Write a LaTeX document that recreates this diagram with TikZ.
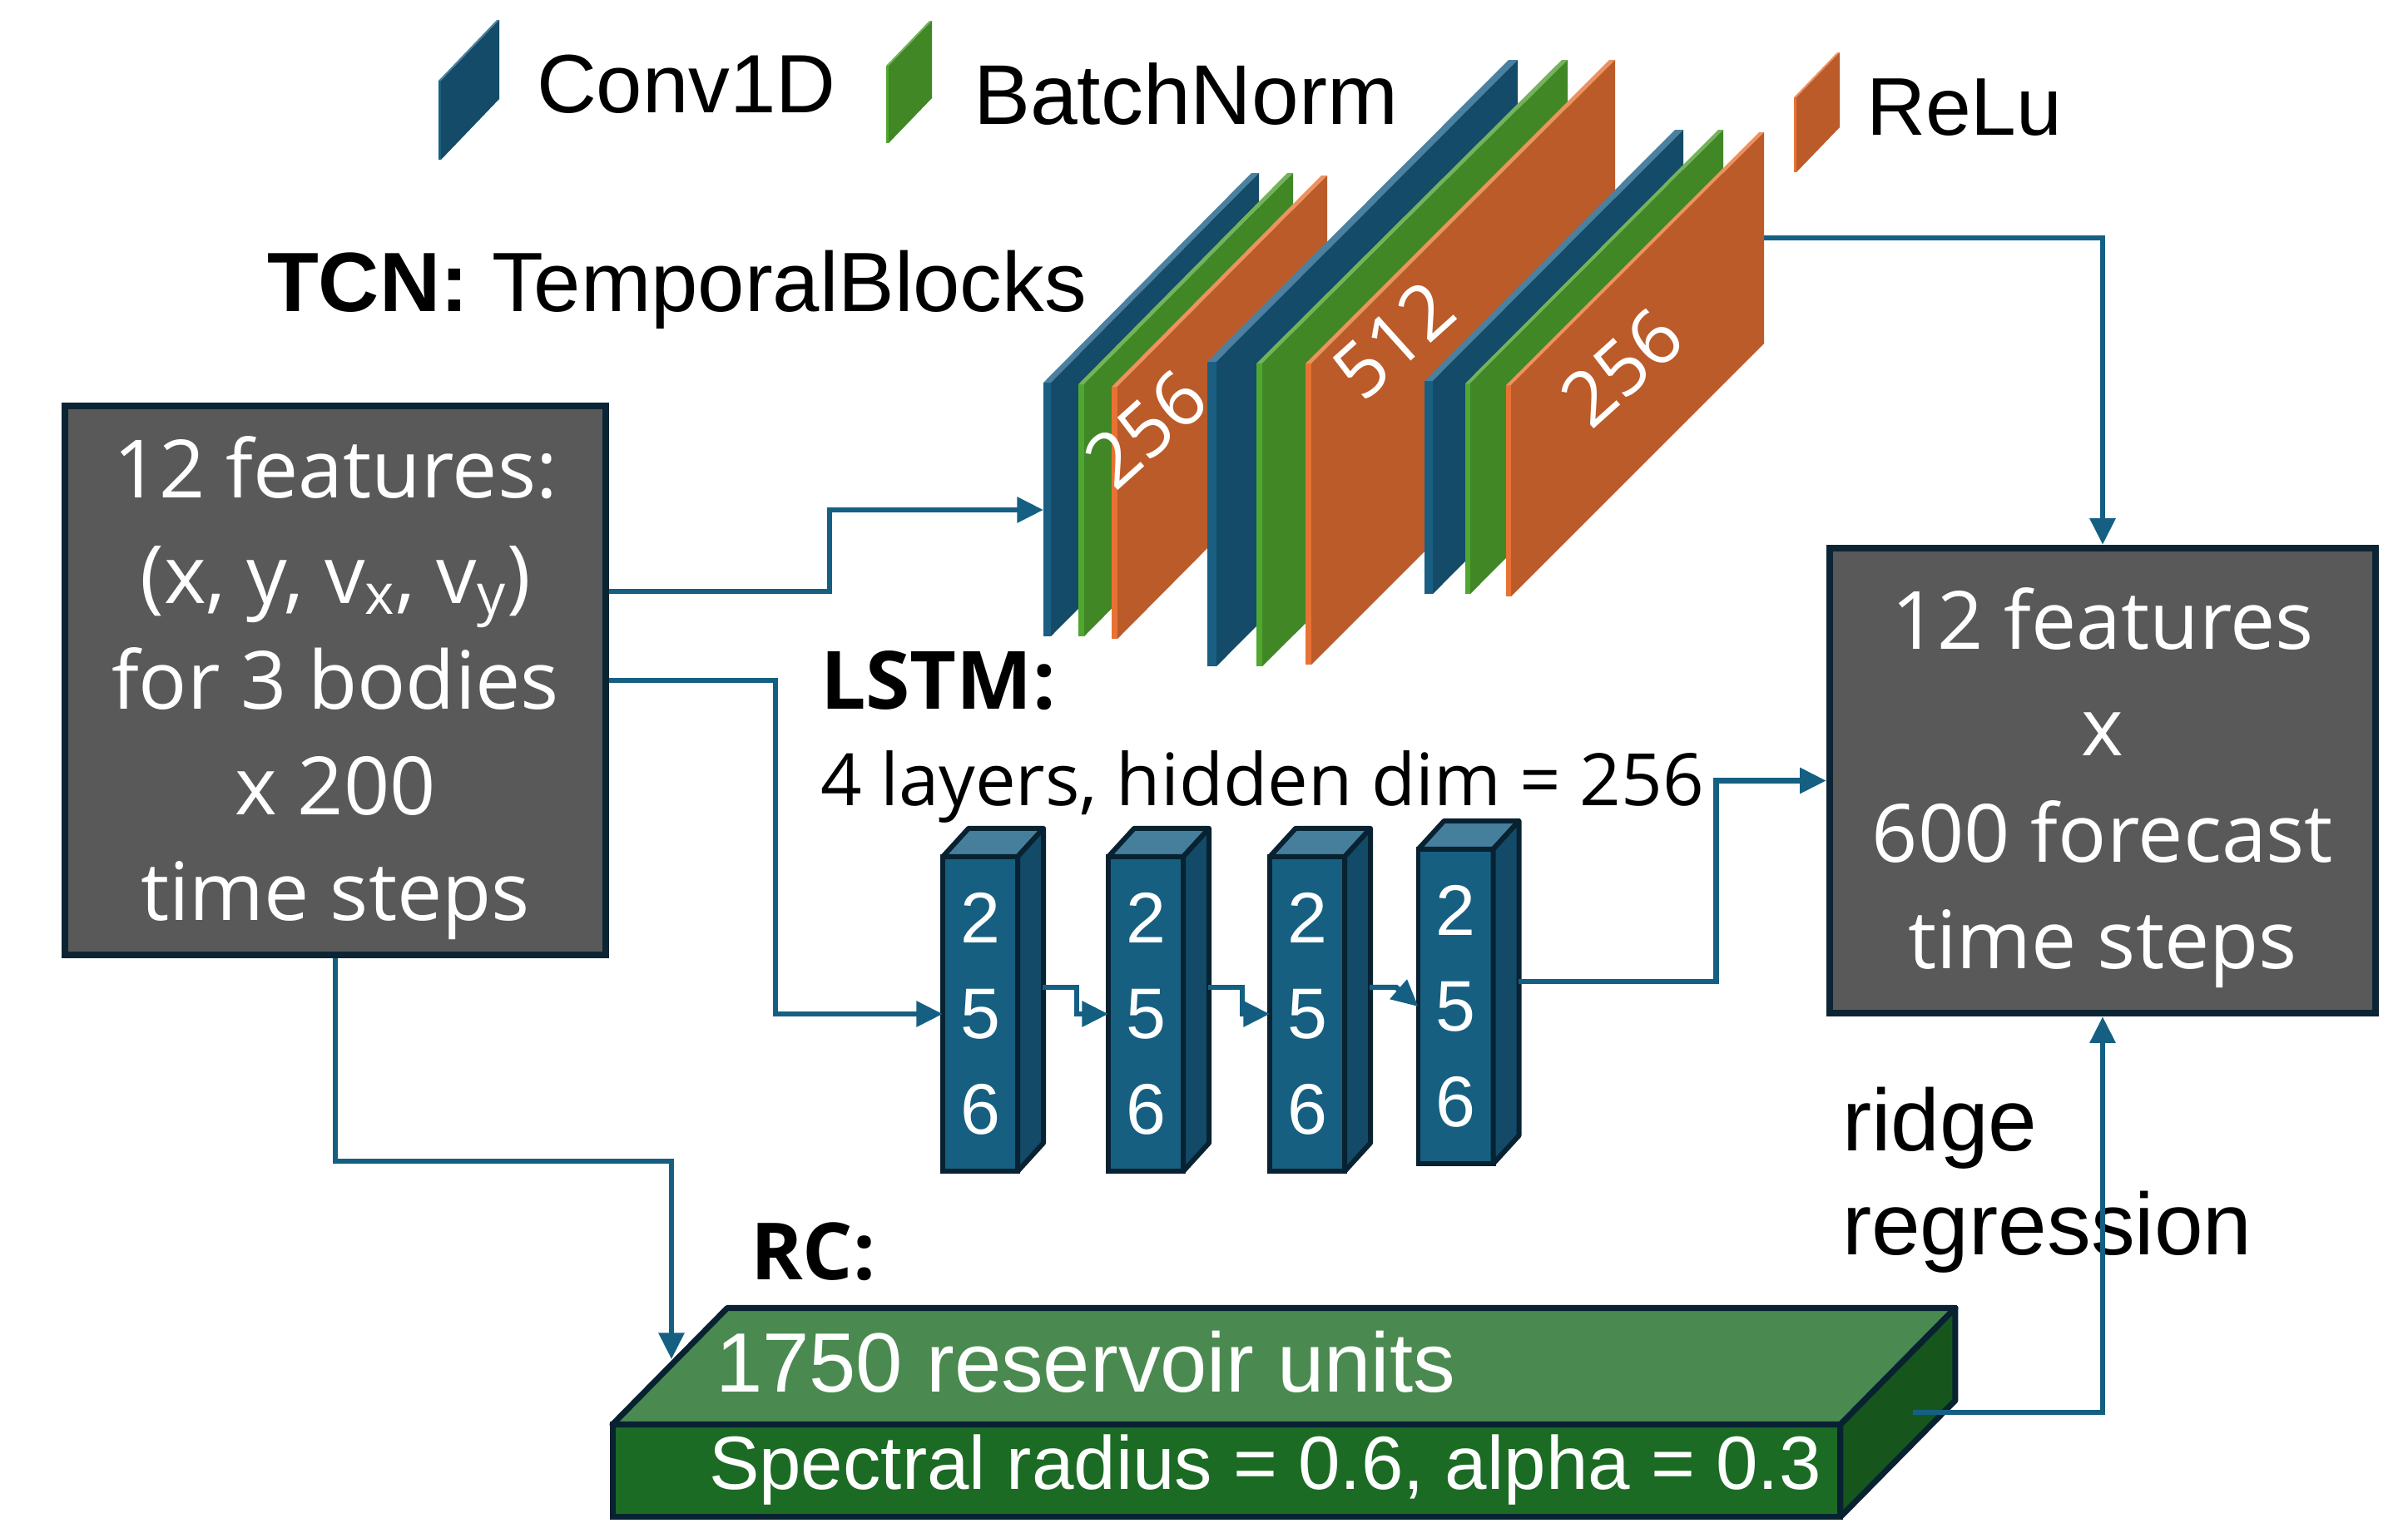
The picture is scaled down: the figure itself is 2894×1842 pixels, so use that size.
\documentclass[tikz,border=0pt]{standalone}
\usepackage{fontspec}
\setmainfont{Liberation Sans}
\newfontfamily\ap{Open Sans}
\usetikzlibrary{arrows.meta,calc}
\definecolor{cblue}{HTML}{156082}
\definecolor{bxgray}{HTML}{595959}
\definecolor{bxborder}{HTML}{0C2535}
\definecolor{lborder}{HTML}{082231}
\definecolor{lfront}{HTML}{175F80}
\definecolor{lside}{HTML}{124A68}
\definecolor{ltop}{HTML}{467F9C}
\definecolor{rcfrontc}{HTML}{1C6B24}
\definecolor{rctopc}{HTML}{4A8A50}
\definecolor{rcsidec}{HTML}{16561D}
\definecolor{bmain}{HTML}{134B69}
\definecolor{bleft}{HTML}{1A5F82}
\definecolor{btop}{HTML}{4A80A0}
\definecolor{gmain}{HTML}{418726}
\definecolor{gleft}{HTML}{4FA72F}
\definecolor{gtop}{HTML}{74B35A}
\definecolor{omain}{HTML}{BB5B29}
\definecolor{oleft}{HTML}{E87234}
\definecolor{otop}{HTML}{EE915F}
\newcommand\fsz[2]{\fontsize{#1}{#2}\selectfont}
\newcommand\tstrut{\rule{0pt}{26.4pt}}
\newcommand\bstrut{\rule[-6.8pt]{0pt}{6.8pt}}
% x0, ytl, dx, dy, h, w, main, left, top
\newcommand\tlayer[9]{%
  \fill[#8] (#1,#2) -- (#1+#6,#2) -- (#1+#6,#2+#5) -- (#1,#2+#5) -- cycle;
  \fill[#9] (#1,#2) -- (#1+#3,#2-#4) -- (#1+#3+#6,#2-#4) -- (#1+#6,#2) -- cycle;
  \fill[#7] (#1+#6,#2) -- (#1+#6+#3,#2-#4) -- (#1+#6+#3,#2-#4+#5) -- (#1+#6,#2+#5) -- cycle;
}
\begin{document}
\begin{tikzpicture}[x=0.01cm,y=-0.01cm,
  txt/.style={inner sep=0pt,outer sep=0pt},
  conn/.style={draw=cblue,line width=1.8pt},
  arr/.style={conn,-{Triangle[length=9pt,width=8.5pt]}},
  fbox/.style={draw=bxborder,fill=bxgray,line width=2.3pt,inner sep=0pt,text=white,align=center},
  lstm/.style={draw=lborder,fill=lfront,line width=1.7pt,minimum width=0.9cm,minimum height=3.78cm,
    inner sep=0pt,outer sep=0pt,text=white,align=center,font=\fsz{24.5}{32.7}},
  face/.style={draw=lborder,line join=round},
  tcnlabel/.style={txt,rotate=42,text=white,font=\ap\fsz{26}{30}},
]
\fill[white] (0,0) rectangle (2894,1842);
\useasboundingbox (0,0) rectangle (2894,1842);

% ---- TCN temporal blocks ----
\tlayer{1254}{460}{250}{252}{305}{9}{bmain}{bleft}{btop}
\tlayer{1296}{462}{251}{254}{303}{7}{gmain}{gleft}{gtop}
\tlayer{1336}{465}{252}{254}{303}{7}{omain}{oleft}{otop}
\node[tcnlabel] (l1) at (1377,516) {256};
\tlayer{1451}{435}{362}{363}{366}{11}{bmain}{bleft}{btop}
\tlayer{1510}{437}{367}{365}{364}{7}{gmain}{gleft}{gtop}
\tlayer{1569}{437}{365}{365}{362}{7}{omain}{oleft}{otop}
\node[tcnlabel] (l2) at (1675,409) {512};
\tlayer{1712}{458}{301}{302}{256}{10}{bmain}{bleft}{btop}
\tlayer{1761}{461}{304}{305}{253}{6}{gmain}{gleft}{gtop}
\tlayer{1810}{463}{304}{304}{254}{6}{omain}{oleft}{otop}
\node[tcnlabel] (l3) at (1949,442) {256};

% ---- legend ----
\tlayer{527}{97}{70}{73}{95}{3}{bmain}{bleft}{btop}
\tlayer{1065}{79}{52}{54}{93}{3}{gmain}{gleft}{gtop}
\tlayer{2156}{117}{52}{54}{90}{3}{omain}{oleft}{otop}
\node[txt,anchor=base west,font=\fsz{28.3}{34}] (lg1) at (645,135) {Conv1D};
\node[txt,anchor=base west,font=\fsz{29}{34}] (lg2) at (1170,149) {BatchNorm};
\node[txt,anchor=base west,font=\fsz{28}{34}] (lg3) at (2243,162) {ReLu};

% ---- titles ----
\node[txt,anchor=base west,font=\fsz{28.8}{34}] (tcn) at (321,374) {\textbf{TCN:} TemporalBlocks};
\node[txt,anchor=base west,font=\ap\bfseries\fsz{27.5}{33}] (lstmt) at (986,852) {LSTM:};
\node[txt,anchor=base west,font=\ap\fsz{24.7}{30}] (lstms) at (986,968) {4 layers, hidden dim = 256};
\node[txt,anchor=base west,font=\ap\bfseries\fsz{27}{33}] (rct) at (902,1538) {RC:};
\node[txt,anchor=north west,align=left,font=\fsz{30}{35.6}] (ridge) at (2214,1277.6) {\rule{0pt}{30pt}ridge\\regression};

% ---- input / output boxes ----
\node[fbox,minimum width=6.5cm,minimum height=6.6cm,font=\ap\fsz{27.5}{36.1}] (inbox) at (403,818)
  {\tstrut 12 features:\\(x, y, v\textsubscript{x}, v\textsubscript{y})\\for 3 bodies\\x 200\\time steps\bstrut};
\node[fbox,minimum width=6.56cm,minimum height=5.59cm,font=\ap\fsz{27.5}{36.4}] (outbox) at (2527,938.5)
  {\tstrut 12 features\\x\\600 forecast\\time steps\bstrut};

% ---- LSTM blocks ----
\node[lstm] (b1) at (1178,1219) {2\\5\\6};
\node[lstm] (b2) at (1377,1219) {2\\5\\6};
\node[lstm] (b3) at (1571,1219) {2\\5\\6};
\node[lstm] (b4) at (1749.5,1210) {2\\5\\6};
\foreach \nn in {b1,b2,b3,b4}{
  \filldraw[face,line width=1.7pt,fill=ltop] (\nn.north west) -- ++(31,-34) -- ($(\nn.north east)+(31,-34)$) -- (\nn.north east) -- cycle;
  \filldraw[face,line width=1.7pt,fill=lside] (\nn.north east) -- ++(31,-34) -- ($(\nn.south east)+(31,-34)$) -- (\nn.south east) -- cycle;
}

% ---- RC slab ----
\node[draw=lborder,fill=rcfrontc,line width=2pt,minimum width=14.75cm,minimum height=1.11cm,inner sep=0pt,outer sep=0pt] (rc) at (1474,1768) {};
\filldraw[face,line width=2pt,fill=rctopc] (rc.north west) -- ++(138,-140) -- ($(rc.north east)+(138,-140)$) -- (rc.north east) -- cycle;
\filldraw[face,line width=2pt,fill=rcsidec] (rc.north east) -- ++(138,-140) -- ($(rc.south east)+(138,-140)$) -- (rc.south east) -- cycle;
\node[txt,anchor=base west,text=white,font=\fsz{28.8}{34}] (rcunits) at (860,1673) {1750 reservoir units};
\node[txt,anchor=base west,text=white,font=\fsz{25.8}{31}] (rcspec) at (852,1790) {Spectral radius = 0.6, alpha = 0.3};

% ---- connectors ----
\coordinate (tcnin) at (1254,613);
\coordinate (tcnout) at (2120,286);
\coordinate (rcin) at (807,1634);
\coordinate (rcout) at (2299,1698);
\draw[arr] ([yshift=1.07cm]inbox.east) -- ++(265,0) |- (tcnin);
\draw[arr] (inbox.east) -- ++(200,0) |- (b1.west);
\draw[arr] (inbox.south) -- ++(0,244) -| (rcin);
\draw[arr] (tcnout) -| (outbox.north);
\draw[arr] ($(b1.east)+(30,-32)$) -- ++(41,0) |- (b2.west);
\draw[arr] ($(b2.east)+(30,-32)$) -- ++(41,0) |- (b3.west);
\draw[arr] ($(b3.east)+(30,-32)$) -- ++(32,0) -- (b4.west);
\draw[arr] ($(b4.east)+(30,-30)$) -- ++(238,0) |- (outbox.west);
\draw[arr] (rcout) -| (outbox.south);
\end{tikzpicture}
\end{document}
